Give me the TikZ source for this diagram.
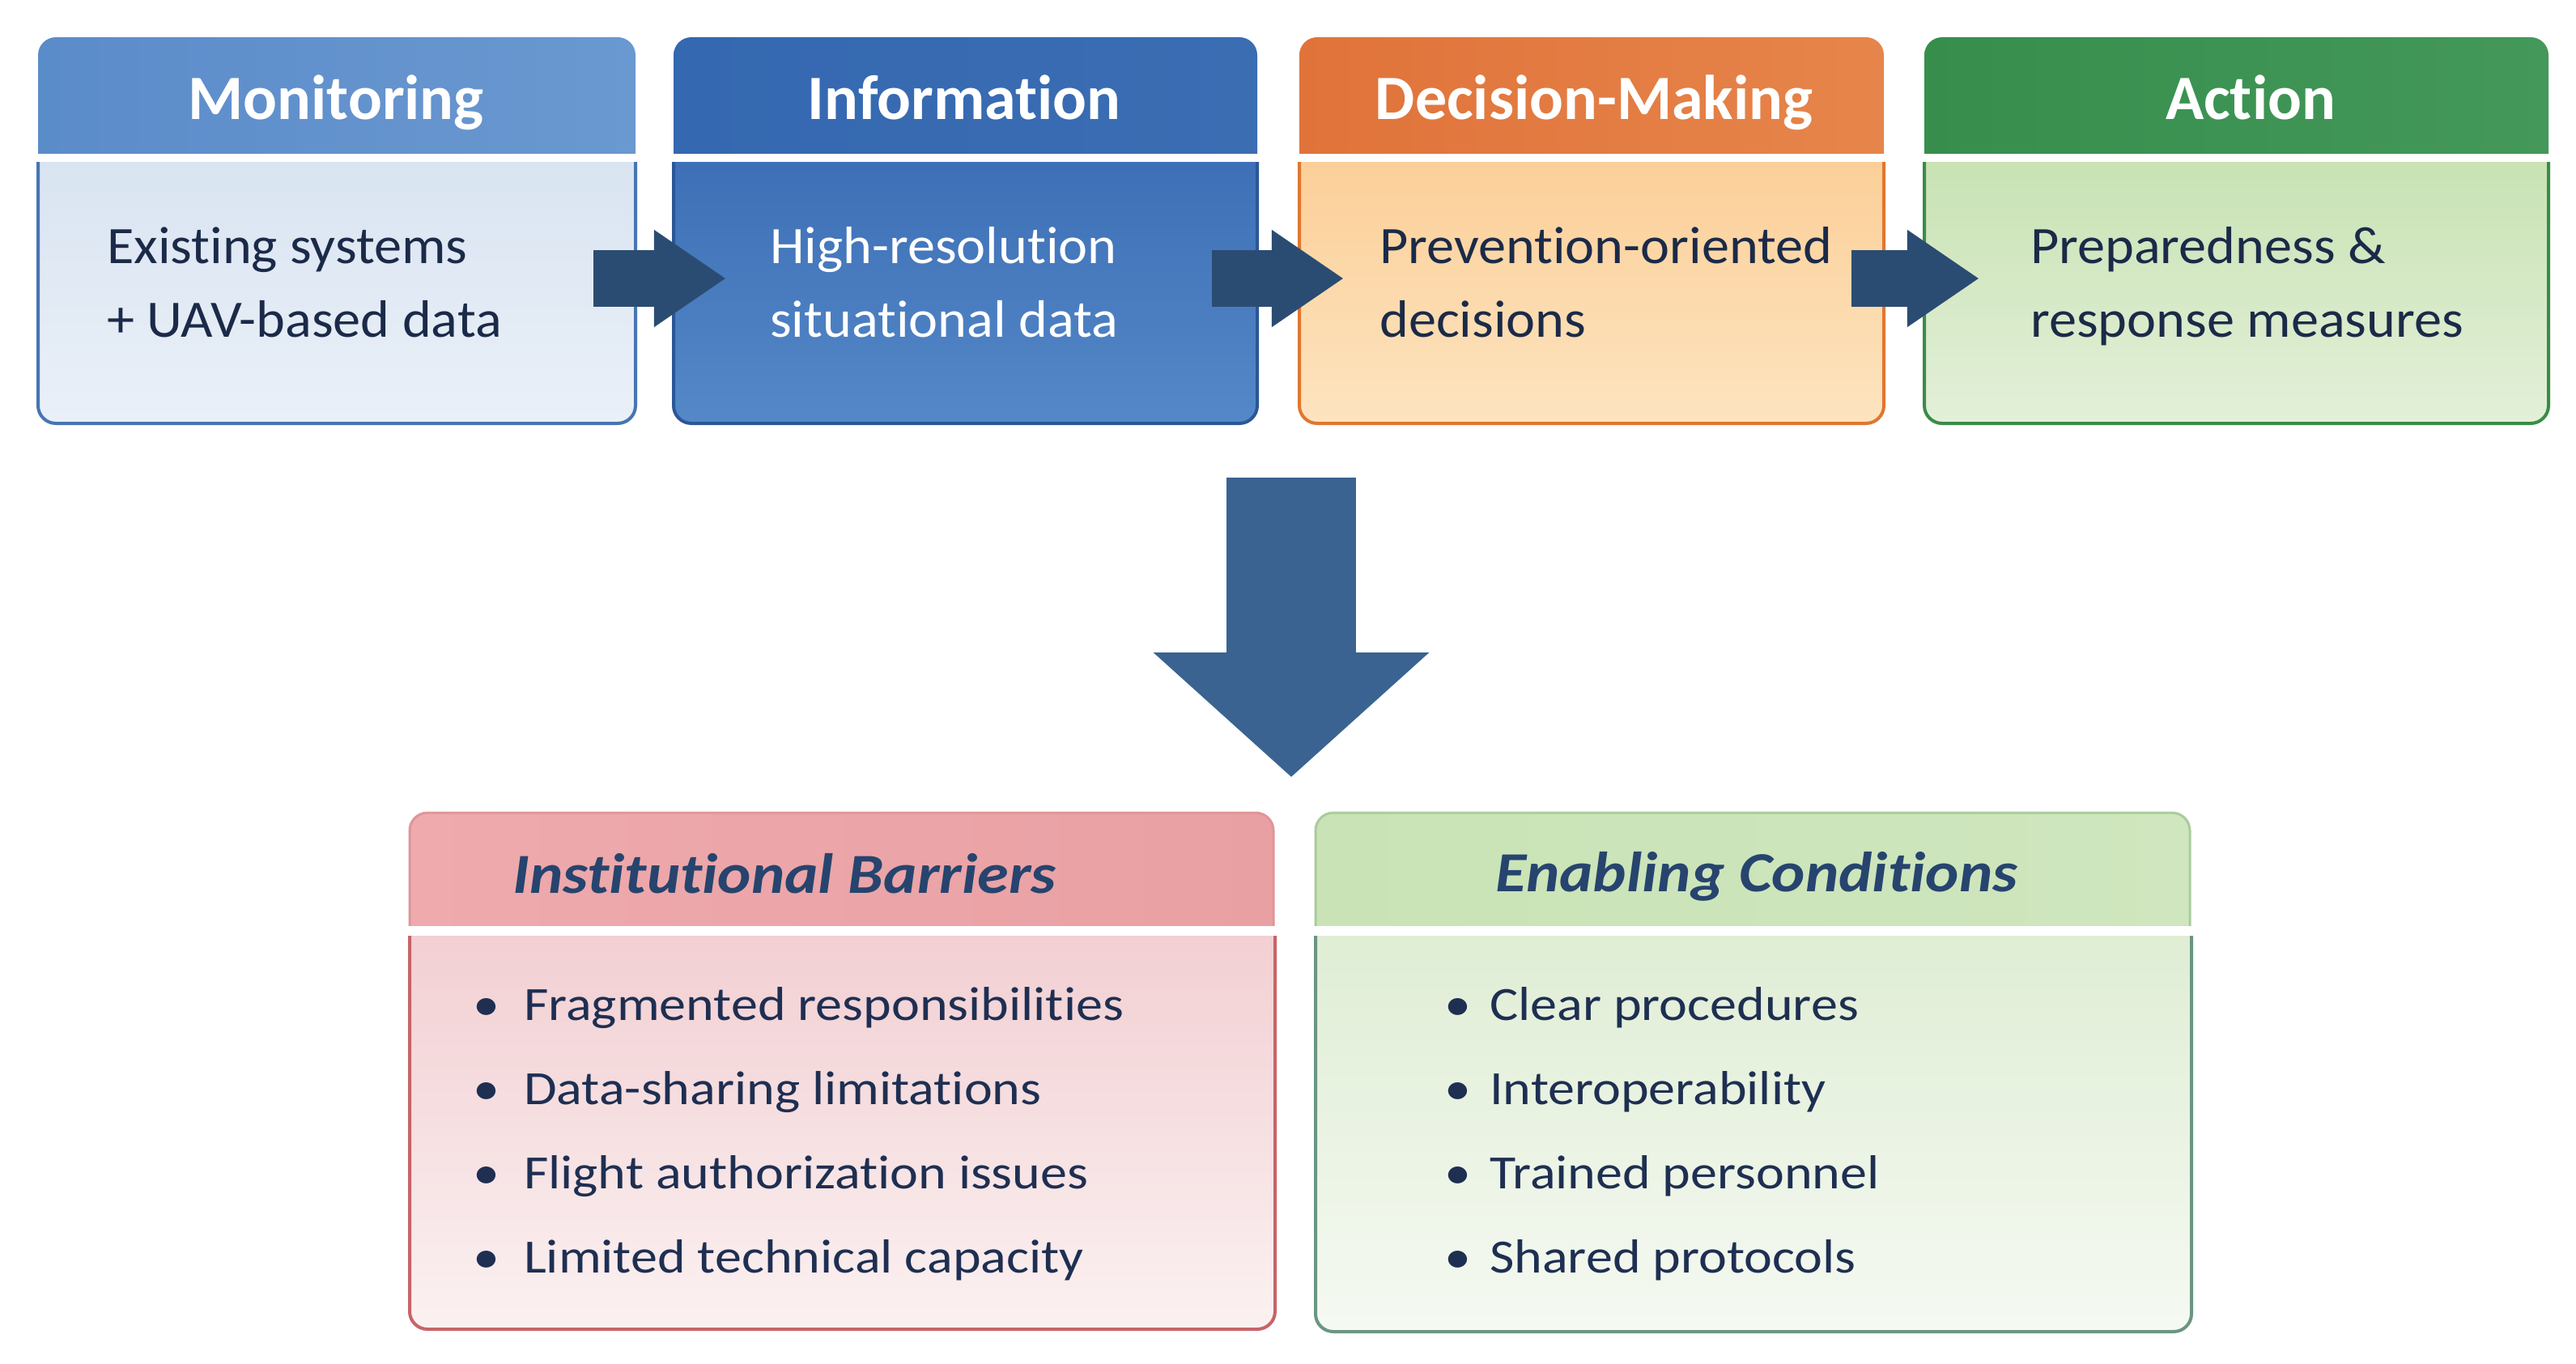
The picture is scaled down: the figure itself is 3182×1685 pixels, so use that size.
\documentclass[tikz,border=0pt]{standalone}
\usepackage{fontspec}
\setmainfont{Carlito}[Ligatures=NoCommon]
\newfontfamily\txtfont[FakeStretch=1.12,Ligatures=NoCommon]{Carlito}
\newfontfamily\bodyfont[FakeStretch=1.05,Ligatures=NoCommon]{Carlito}
\usetikzlibrary{arrows.meta}
\definecolor{c1hl}{HTML}{5B8CCA}\definecolor{c1hr}{HTML}{6A98D0}
\definecolor{c1bt}{HTML}{D6E2F0}\definecolor{c1bb}{HTML}{EAF0F8}\definecolor{c1bd}{HTML}{4675B3}
\definecolor{c2hl}{HTML}{3468B0}\definecolor{c2hr}{HTML}{3B6DB3}
\definecolor{c2bt}{HTML}{3A6BB4}\definecolor{c2bb}{HTML}{5488C7}\definecolor{c2bd}{HTML}{2B5797}
\definecolor{c3hl}{HTML}{E0733A}\definecolor{c3hr}{HTML}{E6854B}
\definecolor{c3bt}{HTML}{FBCB92}\definecolor{c3bb}{HTML}{FDE4BF}\definecolor{c3bd}{HTML}{E0772F}
\definecolor{c4hl}{HTML}{378E4C}\definecolor{c4hr}{HTML}{43985A}
\definecolor{c4bt}{HTML}{C4E0AD}\definecolor{c4bb}{HTML}{E3F0D9}\definecolor{c4bd}{HTML}{3A8C49}
\definecolor{pkhl}{HTML}{EEAAAD}\definecolor{pkhr}{HTML}{E9A0A3}\definecolor{pkho}{HTML}{E09599}
\definecolor{pkbt}{HTML}{F1CBCF}\definecolor{pkbb}{HTML}{FBF1F1}\definecolor{pkbd}{HTML}{C76468}
\definecolor{gnhl}{HTML}{C9E3B6}\definecolor{gnhr}{HTML}{CFE6BE}\definecolor{gnho}{HTML}{A9CC9C}
\definecolor{gnbt}{HTML}{DDECD1}\definecolor{gnbb}{HTML}{F5F9F2}\definecolor{gnbd}{HTML}{6A9682}
\definecolor{darktxt}{HTML}{1B2A48}
\definecolor{ttlc}{HTML}{26446E}
\definecolor{bultc}{HTML}{1E2F52}
\definecolor{arrc}{HTML}{2B4C72}
\definecolor{bigarrc}{HTML}{3A6391}
\newcommand{\headbar}[5]{%
  \begin{scope}
    \clip (#1-6,#3-6) rectangle (#2+6,#4);
    \path[#5, rounded corners=22pt] (#1,#3) rectangle (#2,#4+60);
  \end{scope}}
\newcommand{\bodybox}[5]{%
  \begin{scope}
    \clip (#1-6,#3) rectangle (#2+6,#4+6);
    \path[#5, rounded corners=22pt] (#1,#3-60) rectangle (#2,#4);
  \end{scope}}
\tikzset{
  hdtxt/.style={anchor=base, text=white, inner sep=0pt, font=\fontsize{78}{90}\selectfont\bfseries},
  bodytxt/.style={anchor=base west, inner sep=0pt, text=darktxt, font=\bodyfont\fontsize{65}{80}\selectfont},
  bultxt/.style={anchor=base west, inner sep=0pt, text=bultc, font=\txtfont\fontsize{59}{70}\selectfont},
  ttl/.style={anchor=base west, inner sep=0pt, text=ttlc, font=\txtfont\fontsize{70}{80}\selectfont\bfseries\itshape},
  area/.style={inner sep=0pt, minimum width=#1},
  blk/.style={line width=69pt, draw=arrc, -{Triangle[length=89pt,width=114pt]}},
  bigblk/.style={line width=160pt, draw=bigarrc, -{Triangle[length=154pt,width=332pt]}},
}
\begin{document}
\begin{tikzpicture}[x=1pt,y=-1pt]
\useasboundingbox[fill=white] (0,0) rectangle (3182,1685);

% ---------- top row ----------
\headbar{47}{785}{46}{190}{left color=c1hl,right color=c1hr}
\bodybox{47}{785}{201}{523}{draw=c1bd,line width=4pt,top color=c1bt,bottom color=c1bb}
\headbar{832}{1553}{46}{190}{left color=c2hl,right color=c2hr}
\bodybox{832}{1553}{201}{523}{draw=c2bd,line width=4pt,top color=c2bt,bottom color=c2bb}
\headbar{1605}{2327}{46}{190}{left color=c3hl,right color=c3hr}
\bodybox{1605}{2327}{201}{523}{draw=c3bd,line width=4pt,top color=c3bt,bottom color=c3bb}
\headbar{2377}{3148}{46}{190}{left color=c4hl,right color=c4hr}
\bodybox{2377}{3148}{201}{523}{draw=c4bd,line width=4pt,top color=c4bt,bottom color=c4bb}

\node[area=738pt, minimum height=322pt] (b1) at (416,362) {};
\node[area=721pt, minimum height=322pt] (b2) at (1192.5,362) {};
\node[area=722pt, minimum height=322pt] (b3) at (1966,362) {};
\node[area=771pt, minimum height=322pt] (b4) at (2762.5,362) {};

\node[hdtxt] (h1) at (415,148) {Monitoring};
\node[hdtxt] (h2) at (1191,148) {Information};
\node[hdtxt] (h3) at (1969,148) {Decision-Making};
\node[hdtxt] (h4) at (2780,148) {Action};

\node[bodytxt] (t1a) at (132,326) {Existing systems};
\node[bodytxt] (t1b) at (132,416) {+ UAV-based data};
\node[bodytxt, text=white] (t2a) at (951,326) {High-resolution};
\node[bodytxt, text=white] (t2b) at (951,416) {situational data};
\node[bodytxt] (t3a) at (1704,326) {Prevention-oriented};
\node[bodytxt] (t3b) at (1704,416) {decisions};
\node[bodytxt] (t4a) at (2508,326) {Preparedness \&};
\node[bodytxt] (t4b) at (2508,416) {response measures};

% horizontal block arrows
\draw[blk] ([xshift=-52pt,yshift=18pt]b1.east) -- ([xshift=65pt,yshift=18pt]b2.west);
\draw[blk] ([xshift=-56pt,yshift=18pt]b2.east) -- ([xshift=55pt,yshift=18pt]b3.west);
\draw[blk] ([xshift=-40pt,yshift=18pt]b3.east) -- ([xshift=68pt,yshift=18pt]b4.west);

% big down arrow
\coordinate (dtop) at (1595,590);
\coordinate (dbot) at (1595,960);
\draw[bigblk] (dtop) -- (dbot);

% ---------- bottom row ----------
\headbar{506}{1573}{1004}{1143}{left color=pkhl,right color=pkhr,draw=pkho,line width=3pt}
\bodybox{506}{1575}{1156}{1642}{draw=pkbd,line width=4pt,top color=pkbt,bottom color=pkbb}
\headbar{1625}{2705}{1004}{1143}{left color=gnhl,right color=gnhr,draw=gnho,line width=3pt}
\bodybox{1625}{2707}{1156}{1645}{draw=gnbd,line width=4pt,top color=gnbt,bottom color=gnbb}

\node[ttl] (pt) at (633,1103) {Institutional Barriers};
\node[ttl] (gt) at (1847,1101) {Enabling Conditions};

\node[bultxt] (p1) at (584,1260) {\makebox[63pt][l]{•}Fragmented responsibilities};
\node[bultxt] (p2) at (584,1364) {\makebox[63pt][l]{•}Data-sharing limitations};
\node[bultxt] (p3) at (584,1468) {\makebox[63pt][l]{•}Flight authorization issues};
\node[bultxt] (p4) at (584,1572) {\makebox[63pt][l]{•}Limited technical capacity};

\node[bultxt] (g1) at (1784,1260) {\makebox[56pt][l]{•}Clear procedures};
\node[bultxt] (g2) at (1784,1364) {\makebox[56pt][l]{•}Interoperability};
\node[bultxt] (g3) at (1784,1468) {\makebox[56pt][l]{•}Trained personnel};
\node[bultxt] (g4) at (1784,1572) {\makebox[56pt][l]{•}Shared protocols};
\end{tikzpicture}
\end{document}
